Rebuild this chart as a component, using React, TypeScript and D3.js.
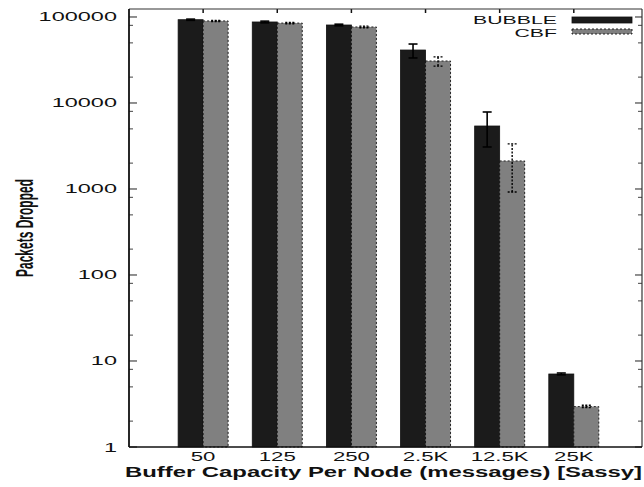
import React from "react";
import * as d3 from "d3";

// Buffer sizes (x categories) and packets dropped per protocol
const categories = ["50", "125", "250", "2.5K", "12.5K", "25K"];
const bubble = [93000, 87500, 80700, 41300, 5400, 7.06];
const bubbleLow = [91500, 85500, 79000, 33400, 3080, 6.9];
const bubbleHigh = [94500, 89500, 82500, 48500, 7860, 7.25];
const cbf = [90000, 85000, 76600, 30800, 2120, 2.95];
const cbfLow = [88500, 83500, 75000, 26900, 923, 2.88];
const cbfHigh = [91500, 86500, 78200, 34300, 3340, 3.06];
const yTickValues = [1, 10, 100, 1000, 10000, 100000];
const yMinorMultipliers = [2, 5, 8];

const W = 644;
const H = 487;
const left = 129;
const right = 642;
const top = 9;
const bottom = 447;
const FONT = "'Liberation Sans', Arial, Helvetica, sans-serif";

export default function App() {
  const x = d3.scaleLinear().domain([-1, 5.92]).range([left, right]);
  const y = d3.scaleLog().domain([1, Math.pow(10, 5.093)]).range([bottom, top]);
  const barW = 25;
  const capW = 9;

  const minorTicks: number[] = [];
  for (let d = 0; d < 5; d++) {
    for (const m of yMinorMultipliers) {
      const v = m * Math.pow(10, d);
      if (y(v) > top) minorTicks.push(v);
    }
  }

  return (
    <svg
      width={W}
      height={H}
      style={{ position: "absolute", left: 0, top: 0, background: "#fff" }}
    >
      {/* y ticks */}
      {yTickValues.map((v) => (
        <g key={"yt" + v}>
          <line x1={left} x2={left + 8} y1={y(v)} y2={y(v)} stroke="#222" strokeWidth={1} />
          <line x1={right} x2={right - 7} y1={y(v)} y2={y(v)} stroke="#222" strokeWidth={1} />
          <text
            transform={`translate(117,${y(v) + 4.5}) scale(1.88,1)`}
            textAnchor="end"
            fontFamily={FONT}
            fontSize={12.5}
            fill="#111"
          >
            {String(v)}
          </text>
        </g>
      ))}
      {minorTicks.map((v) => (
        <g key={"ym" + v}>
          <line x1={left} x2={left + 4} y1={y(v)} y2={y(v)} stroke="#444" strokeWidth={1} />
          <line x1={right} x2={right - 4} y1={y(v)} y2={y(v)} stroke="#444" strokeWidth={1} />
        </g>
      ))}

      {/* x ticks on the borders and category labels */}
      {categories.map((c, i) => (
        <g key={"xt" + c}>
          <line x1={x(i)} x2={x(i)} y1={top} y2={top + 4} stroke="#111" strokeWidth={1.5} />
          <line x1={x(i)} x2={x(i)} y1={bottom} y2={bottom - 4} stroke="#111" strokeWidth={1.5} />
          <text
            transform={`translate(${x(i)},460.5) scale(1.85,1)`}
            textAnchor="middle"
            fontFamily={FONT}
            fontSize={12}
            fill="#111"
          >
            {c}
          </text>
        </g>
      ))}

      {/* bars */}
      {categories.map((c, i) => {
        const cx = x(i);
        return (
          <g key={"bar" + c}>
            <rect
              x={cx - barW}
              y={y(bubble[i])}
              width={barW}
              height={bottom - y(bubble[i])}
              fill="#1b1b1b"
              stroke="#111"
              strokeWidth={0.8}
            />
            <rect
              x={cx}
              y={y(cbf[i])}
              width={barW}
              height={bottom - y(cbf[i])}
              fill="#808080"
              stroke="#111"
              strokeWidth={0.9}
              strokeDasharray="2,2"
            />
          </g>
        );
      })}

      {/* error bars */}
      {categories.map((c, i) => {
        const bx = x(i) - barW / 2;
        const gx = x(i) + barW / 2;
        return (
          <g key={"err" + c}>
            <line x1={bx} x2={bx} y1={y(bubbleLow[i])} y2={y(bubbleHigh[i])} stroke="#000" strokeWidth={1.6} />
            <line x1={bx - capW / 2} x2={bx + capW / 2} y1={y(bubbleLow[i])} y2={y(bubbleLow[i])} stroke="#000" strokeWidth={1.6} />
            <line x1={bx - capW / 2} x2={bx + capW / 2} y1={y(bubbleHigh[i])} y2={y(bubbleHigh[i])} stroke="#000" strokeWidth={1.6} />
            <line x1={gx} x2={gx} y1={y(cbfLow[i])} y2={y(cbfHigh[i])} stroke="#000" strokeWidth={1.4} strokeDasharray="2,1.5" />
            <line x1={gx - capW / 2} x2={gx + capW / 2} y1={y(cbfLow[i])} y2={y(cbfLow[i])} stroke="#000" strokeWidth={1.3} strokeDasharray="2,1.5" />
            <line x1={gx - capW / 2} x2={gx + capW / 2} y1={y(cbfHigh[i])} y2={y(cbfHigh[i])} stroke="#000" strokeWidth={1.3} strokeDasharray="2,1.5" />
          </g>
        );
      })}

      {/* plot frame */}
      <line x1={left} x2={right} y1={top} y2={top} stroke="#333" strokeWidth={1.2} />
      <line x1={right} x2={right} y1={top} y2={bottom} stroke="#333" strokeWidth={1.2} />
      <line x1={left} x2={right} y1={bottom} y2={bottom} stroke="#111" strokeWidth={1.6} />
      <line x1={left} x2={left} y1={top} y2={bottom} stroke="#111" strokeWidth={1.8} />

      {/* legend */}
      <text
        transform="translate(557,23.5) scale(1.85,1)"
        textAnchor="end"
        fontFamily={FONT}
        fontSize={11.5}
        fill="#111"
      >
        BUBBLE
      </text>
      <rect x={572} y={17} width={60} height={6} fill="#1b1b1b" stroke="#111" strokeWidth={0.8} />
      <text
        transform="translate(557,36.5) scale(1.85,1)"
        textAnchor="end"
        fontFamily={FONT}
        fontSize={11.5}
        fill="#111"
      >
        CBF
      </text>
      <rect x={572} y={29} width={60} height={5} fill="#808080" stroke="#111" strokeWidth={0.9} strokeDasharray="2,2" />

      {/* axis titles */}
      <text
        x={125}
        y={477}
        textLength={517}
        lengthAdjust="spacingAndGlyphs"
        fontFamily={FONT}
        fontWeight="bold"
        fontSize={14}
        fill="#111"
      >
        Buffer Capacity Per Node (messages) [Sassy]
      </text>
      <text
        transform="translate(33,228) rotate(-90)"
        textAnchor="middle"
        textLength={98}
        lengthAdjust="spacingAndGlyphs"
        fontFamily="'Liberation Sans Narrow', 'Liberation Sans', Arial, sans-serif"
        fontWeight="bold"
        fontSize={24}
        fill="#111"
      >
        Packets Dropped
      </text>
    </svg>
  );
}
